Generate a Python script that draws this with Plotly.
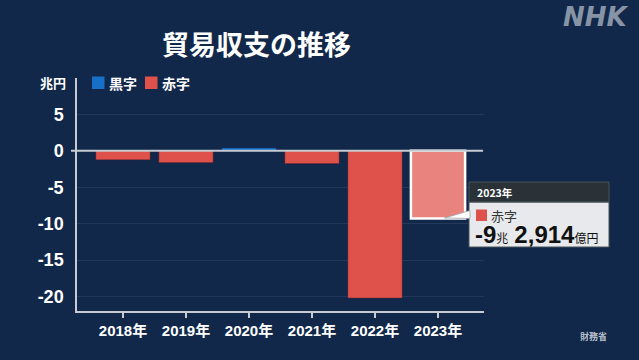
import plotly.graph_objects as go

years = ["2018年", "2019年", "2020年", "2021年", "2022年", "2023年"]
balance = [-1.22, -1.62, 0.39, -1.75, -20.2, -9.29]   # 兆円
highlight_year = "2023年"
highlight_label = ("-9", "2,914")   # 兆, 億円
y_ticks = [5, 0, -5, -10, -15, -20]
legend_items = ["黒字", "赤字"]

BG = "#11284a"
BLUE = "#1670c8"
RED = "#de524b"
RED_HL = "#e8837e"
GRID = "#22395b"
AXIS = "#c8ccd2"
CJK = "Noto Sans CJK JP"

colors, lw, lc = [], [], []
for yv, v in zip(years, balance):
    if yv == highlight_year:
        colors.append(RED_HL); lw.append(2.5); lc.append("#ffffff")
    else:
        colors.append(BLUE if v >= 0 else RED); lw.append(0.6)
        lc.append("rgba(120,30,30,0.6)" if v < 0 else "rgba(10,60,120,0.6)")

fig = go.Figure(go.Bar(
    x=years, y=balance, width=0.86,
    marker=dict(color=colors, line=dict(color=lc, width=lw)),
    hoverinfo="skip", showlegend=False,
))

W, H = 639, 360
L, R, T, B = 77, 155, 78, 49
PW, PH = W - L - R, H - T - B

def px(x):
    return (x - L) / PW

def py(y):
    return (H - B - y) / PH

shapes = []
annotations = []

# zero line with a small tick to the left
shapes.append(dict(type="line", xref="paper", yref="y", x0=px(71), x1=px(483), y0=0, y1=0,
                   line=dict(color=AXIS, width=2), layer="above"))

# legend
annotations.append(dict(xref="paper", yref="paper", x=px(68), y=py(82), xanchor="right", yanchor="middle",
                        text="<b>兆円</b>", showarrow=False, font=dict(family=CJK, size=13, color="white")))
leg_colors = [BLUE, RED]
leg_x = [92, 145]
for name, c, lx in zip(legend_items, leg_colors, leg_x):
    shapes.append(dict(type="rect", xref="paper", yref="paper", x0=px(lx), x1=px(lx + 12.5),
                       y0=py(89), y1=py(76.5), fillcolor=c, line=dict(width=0)))
    annotations.append(dict(xref="paper", yref="paper", x=px(lx + 14.5), y=py(83), xanchor="left", yanchor="middle",
                            text="<b>" + name + "</b>", showarrow=False,
                            font=dict(family=CJK, size=14, color="white")))

# callout for highlighted bar
bx0, bx1, by0, byh, by1 = 469, 609, 182, 202, 247
shapes.append(dict(type="rect", xref="paper", yref="paper", x0=px(bx0), x1=px(bx1), y0=py(by1), y1=py(byh),
                   fillcolor="#e7e9ec", line=dict(color="#4a5258", width=1), layer="above"))
shapes.append(dict(type="rect", xref="paper", yref="paper", x0=px(bx0), x1=px(bx1), y0=py(byh), y1=py(by0),
                   fillcolor="#2a3237", line=dict(color="#4a5258", width=1), layer="above"))
tip_x, tip_y = 444.5, 218
shapes.append(dict(type="path", xref="paper", yref="paper",
                   path=f"M {px(tip_x)} {py(tip_y)} L {px(bx0+1)} {py(210.5)} L {px(bx0+1)} {py(218.5)} Z",
                   fillcolor="#ffffff", line=dict(color="#9aa0a6", width=0.8), layer="above"))
shapes.append(dict(type="rect", xref="paper", yref="paper", x0=px(476), x1=px(487), y0=py(221), y1=py(209.5),
                   fillcolor=RED, line=dict(width=0), layer="above"))
annotations.append(dict(xref="paper", yref="paper", x=px(475), y=py(192.5), xanchor="left", yanchor="middle",
                        text="<b>" + highlight_year + "</b>", showarrow=False,
                        font=dict(family=CJK, size=10.5, color="white")))
annotations.append(dict(xref="paper", yref="paper", x=px(489), y=py(215.5), xanchor="left", yanchor="middle",
                        text=legend_items[1], showarrow=False,
                        font=dict(family=CJK, size=13, color="#333333")))
val_text = (f"<b>{highlight_label[0]}</b><span style='font-size:12px'>兆\u2002</span>"
            f"<b>{highlight_label[1]}</b><span style='font-size:12px'>億円</span>")
annotations.append(dict(xref="paper", yref="paper", x=px(473), y=py(234.5), xanchor="left", yanchor="middle",
                        text=val_text, showarrow=False,
                        font=dict(family="Liberation Sans, " + CJK, size=24, color="#111111")))

# title, logo, source
annotations.append(dict(xref="paper", yref="paper", x=px(256), y=py(43), xanchor="center", yanchor="middle",
                        text="<b>貿易収支の推移</b>", showarrow=False,
                        font=dict(family=CJK, size=27, color="white")))
annotations.append(dict(xref="paper", yref="paper", x=px(596), y=py(17), xanchor="center", yanchor="middle",
                        text="<b><i>NHK</i></b>", showarrow=False,
                        font=dict(family="DejaVu Sans", size=26, color="#8794a6")))
annotations.append(dict(xref="paper", yref="paper", x=px(593), y=py(336), xanchor="center", yanchor="middle",
                        text="<b>財務省</b>", showarrow=False,
                        font=dict(family=CJK, size=9, color="#b7bfca")))

fig.update_layout(
    width=W, height=H,
    margin=dict(l=L, r=R, t=T, b=B, pad=0),
    paper_bgcolor=BG, plot_bgcolor=BG,
    shapes=shapes, annotations=annotations,
    xaxis=dict(range=[-0.73, 5.73], showgrid=False, zeroline=False,
               showline=True, linecolor=AXIS, linewidth=1.5,
               ticks="outside", ticklen=5, tickcolor=AXIS, tickwidth=1.5,
               tickfont=dict(family="Liberation Sans, " + CJK, size=15, color="white"),
               tickprefix="<b>", ticksuffix="</b>", fixedrange=True),
    yaxis=dict(range=[-22, 10], tickvals=y_ticks, ticktext=[f"<b>{t}</b>" for t in y_ticks],
               showgrid=True, gridcolor=GRID, gridwidth=1, zeroline=False,
               showline=True, linecolor=AXIS, linewidth=1.5, ticks="",
               ticklabelstandoff=8,
               tickfont=dict(family="Liberation Sans", size=18, color="white"), fixedrange=True),
)

fig.write_html("out.html")
